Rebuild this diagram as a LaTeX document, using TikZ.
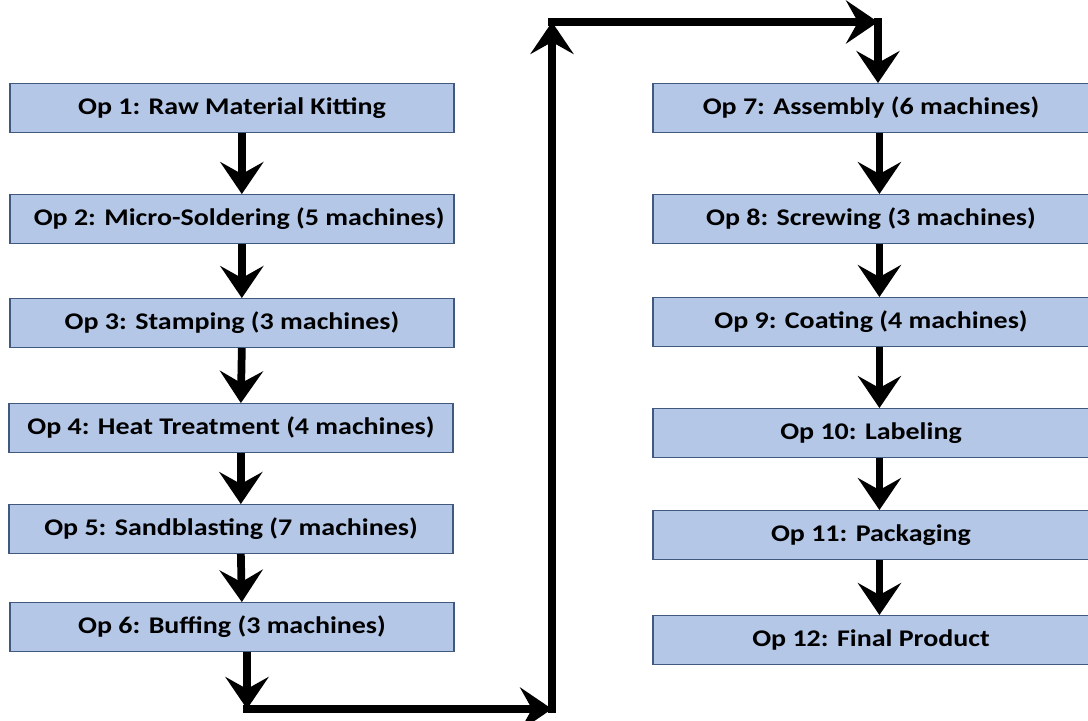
\documentclass[tikz,border=0pt]{standalone}
\usepackage{fontspec}
\setmainfont{Carlito}[FakeStretch=1.17]
\usetikzlibrary{arrows.meta,positioning,calc}

\definecolor{opfill}{HTML}{B4C7E7}
\definecolor{opline}{HTML}{41597F}

\tikzset{
    opbox/.style={draw=opline, line width=0.8pt, fill=opfill, rectangle,
        inner sep=0pt, minimum height=1.22cm, font=\fontsize{17}{19}\selectfont\bfseries},
    leftop/.style={opbox, minimum width=11.1cm},
    rightop/.style={opbox, minimum width=10.9cm},
    flow/.style={line width=5.5pt, -{Stealth[length=0.8cm, width=1.08cm, inset=0.3cm]}},
}

\begin{document}
\begin{tikzpicture}[x=0.025cm, y=-0.025cm]
    \useasboundingbox (0,0) rectangle (1088,721);
    % left column
    \node[leftop] (op1) at (232,108) {Op 1: Raw Material Kitting};
    \node[leftop] (op2) at (232,219) {\hspace*{0.6em}Op 2: Micro-Soldering (5 machines)};
    \node[leftop] (op3) at (232,323) {Op 3: Stamping (3 machines)};
    \node[leftop] (op4) at (231,428) {Op 4: Heat Treatment (4 machines)};
    \node[leftop] (op5) at (231,529) {Op 5: Sandblasting (7 machines)};
    \node[leftop] (op6) at (232,627) {Op 6: Buffing (3 machines)};
    % right column
    \node[rightop] (op7) at (871,108) {Op 7: Assembly (6 machines)};
    \node[rightop] (op8) at (871,219) {Op 8: Screwing (3 machines)};
    \node[rightop] (op9) at (871,322) {Op 9: Coating (4 machines)};
    \node[rightop] (op10) at (871,433) {Op 10: Labeling};
    \node[rightop] (op11) at (871,535) {Op 11: Packaging};
    \node[rightop] (op12) at (871,640) {Op 12: Final Product};
    % corners of the loop
    \coordinate (c1) at (247,709);
    \coordinate (c2) at (552,709);
    \coordinate (c3) at (552,22);
    \coordinate (c4) at (878,22);

    \foreach \a/\b in {op1/op2,op2/op3,op3/op4,op4/op5,op5/op6}
        \draw[flow] ([xshift=7]\a.south) -- ([xshift=7]\b.north);
    \foreach \a/\b in {op7/op8,op8/op9,op9/op10,op10/op11,op11/op12}
        \draw[flow] ([xshift=6]\a.south) -- ([xshift=6]\b.north);

    \draw[flow] (op6.south -| c1) -- (c1);
    \draw[flow] ([xshift=-2.75pt]c1) -- (c2);
    \draw[flow] ([yshift=-2.75pt]c2) -- (c3);
    \draw[flow] ([xshift=-2.75pt]c3) -- (c4);
    \draw[flow] ([yshift=2.75pt]c4) -- (op7.north -| c4);
\end{tikzpicture}
\end{document}
